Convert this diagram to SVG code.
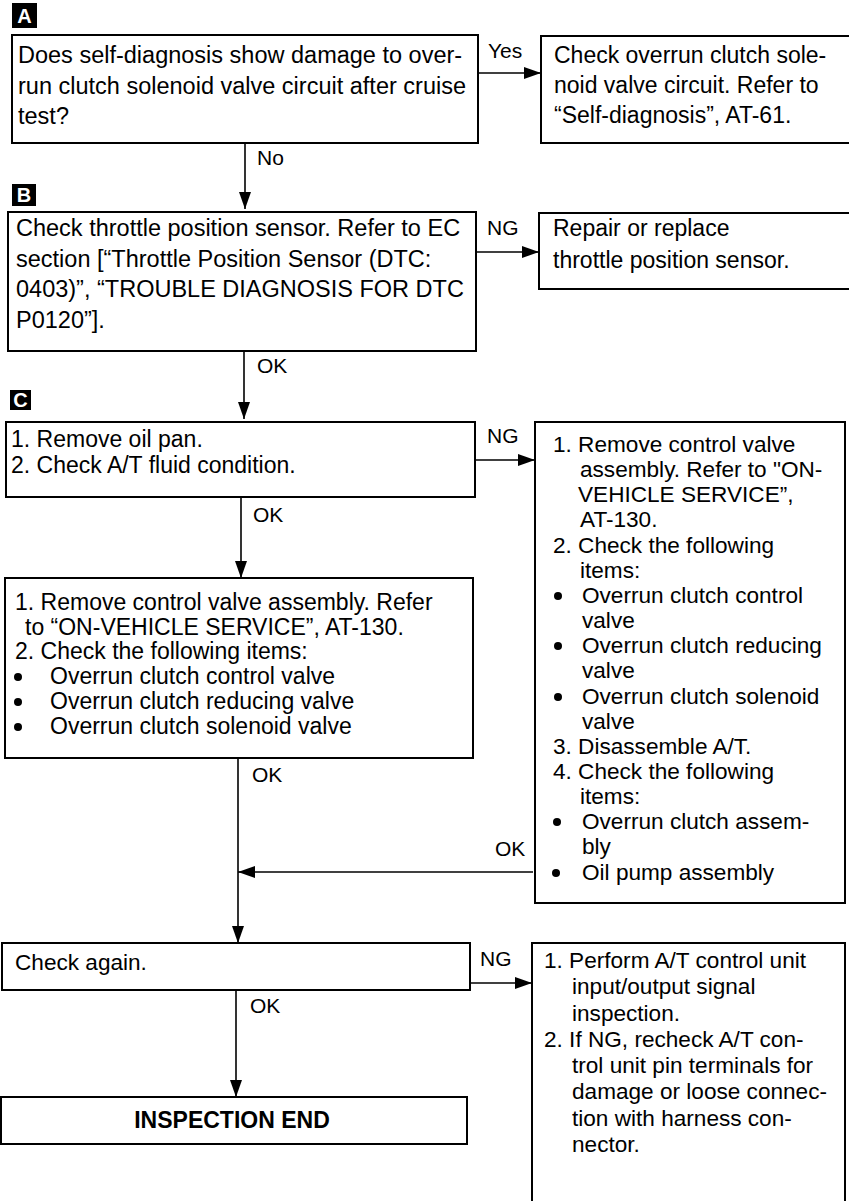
<svg xmlns="http://www.w3.org/2000/svg" width="849" height="1201" viewBox="0 0 849 1201">
<style>
text{font-family:"Liberation Sans",Arial,Helvetica,sans-serif;fill:#000}
.box{fill:#fff;stroke:#000;stroke-width:2}
.t{font-size:23.5px}
.m{font-size:23px}
.s{font-size:22.6px}
.lbl{font-size:21px}
.tag{fill:#000}
.tagt{fill:#fff;font-size:20px;font-weight:bold;text-anchor:middle}
.ln{stroke:#000;stroke-width:1.6;fill:none}
.arr{marker-end:url(#ah)}
.b{fill:#000}
.bold{font-size:23px;font-weight:bold;text-anchor:middle}
</style>
<defs>
<marker id="ah" markerUnits="userSpaceOnUse" markerWidth="17" markerHeight="12" refX="17" refY="6" orient="auto">
<path d="M0,0 L17,6 L0,12 z" fill="#000"/>
</marker>
</defs>
<rect width="849" height="1201" fill="#fff"/>

<g id="tags">
<rect class="tag" x="12" y="3" width="25" height="25"/>
<text class="tagt" x="24.5" y="23">A</text>
<rect class="tag" x="12" y="184" width="24" height="22"/>
<text class="tagt" x="24" y="202">B</text>
<rect class="tag" x="10" y="390" width="21" height="20"/>
<text class="tagt" x="20.5" y="407">C</text>
</g>

<g id="connectors">
<line class="ln arr" x1="245" y1="143" x2="245" y2="209"/>
<line class="ln arr" x1="478" y1="73" x2="541" y2="73"/>
<line class="ln arr" x1="244" y1="351" x2="244" y2="419"/>
<line class="ln arr" x1="476" y1="252" x2="539" y2="252"/>
<line class="ln arr" x1="241" y1="497" x2="241" y2="578"/>
<line class="ln arr" x1="475" y1="460" x2="535" y2="460"/>
<line class="ln arr" x1="238" y1="758" x2="238" y2="943"/>
<line class="ln arr" x1="533" y1="872" x2="238" y2="872"/>
<line class="ln arr" x1="470" y1="983" x2="532" y2="983"/>
<line class="ln arr" x1="236" y1="990" x2="236" y2="1097"/>
<text class="lbl" x="488" y="58">Yes</text>
<text class="lbl" x="257" y="165">No</text>
<text class="lbl" x="487" y="235">NG</text>
<text class="lbl" x="257" y="373">OK</text>
<text class="lbl" x="487" y="443">NG</text>
<text class="lbl" x="253" y="522">OK</text>
<text class="lbl" x="252" y="782">OK</text>
<text class="lbl" x="495" y="856">OK</text>
<text class="lbl" x="480" y="966">NG</text>
<text class="lbl" x="250" y="1013">OK</text>
</g>

<g id="nodeA">
<rect class="box" x="12" y="35" width="466" height="108"/>
<text class="t" x="18" y="63">Does self-diagnosis show damage to over-</text>
<text class="t" x="18" y="94">run clutch solenoid valve circuit after cruise</text>
<text class="t" x="18" y="124">test?</text>
</g>

<g id="nodeA-yes">
<rect class="box" x="541" y="36" width="320" height="107"/>
<text class="m" x="554" y="63">Check overrun clutch sole-</text>
<text class="m" x="554" y="93">noid valve circuit. Refer to</text>
<text class="m" x="554" y="123">“Self-diagnosis”, AT-61.</text>
</g>

<g id="nodeB">
<rect class="box" x="8" y="212" width="468" height="139"/>
<text class="t" x="16" y="236">Check throttle position sensor. Refer to EC</text>
<text class="t" x="16" y="267">section [“Throttle Position Sensor (DTC:</text>
<text class="t" x="16" y="297">0403)”, “TROUBLE DIAGNOSIS FOR DTC</text>
<text class="t" x="16" y="328">P0120”].</text>
</g>

<g id="nodeB-ng">
<rect class="box" x="539" y="213" width="322" height="76"/>
<text class="m" x="553" y="236">Repair or replace</text>
<text class="m" x="553" y="268">throttle position sensor.</text>
</g>

<g id="nodeC">
<rect class="box" x="6" y="422" width="469" height="75"/>
<text class="m" x="11" y="447">1. Remove oil pan.</text>
<text class="m" x="11" y="473">2. Check A/T fluid condition.</text>
</g>

<g id="nodeC-ng">
<rect class="box" x="535" y="422" width="310" height="481"/>
<text class="s" x="553" y="452">1. Remove control valve</text>
<text class="s" x="580" y="477">assembly. Refer to "ON-</text>
<text class="s" x="578" y="502">VEHICLE SERVICE”,</text>
<text class="s" x="580" y="527">AT-130.</text>
<text class="s" x="553" y="553">2. Check the following</text>
<text class="s" x="580" y="578">items:</text>
<circle class="b" cx="558" cy="596" r="4"/>
<text class="s" x="582" y="603">Overrun clutch control</text>
<text class="s" x="582" y="628">valve</text>
<circle class="b" cx="558" cy="646" r="4"/>
<text class="s" x="582" y="653">Overrun clutch reducing</text>
<text class="s" x="582" y="678">valve</text>
<circle class="b" cx="558" cy="697" r="4"/>
<text class="s" x="582" y="704">Overrun clutch solenoid</text>
<text class="s" x="582" y="729">valve</text>
<text class="s" x="553" y="754">3. Disassemble A/T.</text>
<text class="s" x="553" y="779">4. Check the following</text>
<text class="s" x="580" y="804">items:</text>
<circle class="b" cx="557" cy="822" r="4"/>
<text class="s" x="582" y="829">Overrun clutch assem-</text>
<text class="s" x="582" y="854">bly</text>
<circle class="b" cx="556" cy="873" r="4"/>
<text class="s" x="582" y="880">Oil pump assembly</text>
</g>

<g id="nodeC-ok">
<rect class="box" x="5" y="578" width="468" height="180"/>
<text class="m" x="15" y="610">1. Remove control valve assembly. Refer</text>
<text class="m" x="25" y="635">to “ON-VEHICLE SERVICE”, AT-130.</text>
<text class="m" x="15" y="659">2. Check the following items:</text>
<circle class="b" cx="18" cy="677" r="4"/>
<text class="m" x="50" y="684">Overrun clutch control valve</text>
<circle class="b" cx="18" cy="702" r="4"/>
<text class="m" x="50" y="709">Overrun clutch reducing valve</text>
<circle class="b" cx="18" cy="727" r="4"/>
<text class="m" x="50" y="734">Overrun clutch solenoid valve</text>
</g>

<g id="nodeCheck">
<rect class="box" x="2" y="943" width="468" height="47"/>
<text class="s" x="15" y="970">Check again.</text>
</g>

<g id="nodeCheck-ng">
<rect class="box" x="532" y="943" width="313" height="270"/>
<text class="s" x="544" y="968">1. Perform A/T control unit</text>
<text class="s" x="572" y="994">input/output signal</text>
<text class="s" x="572" y="1021">inspection.</text>
<text class="s" x="544" y="1047">2. If NG, recheck A/T con-</text>
<text class="s" x="572" y="1073">trol unit pin terminals for</text>
<text class="s" x="572" y="1099">damage or loose connec-</text>
<text class="s" x="572" y="1126">tion with harness con-</text>
<text class="s" x="572" y="1152">nector.</text>
</g>

<g id="nodeEnd">
<rect class="box" x="1" y="1097" width="466" height="47"/>
<text class="bold" x="232" y="1128">INSPECTION END</text>
</g>
</svg>
